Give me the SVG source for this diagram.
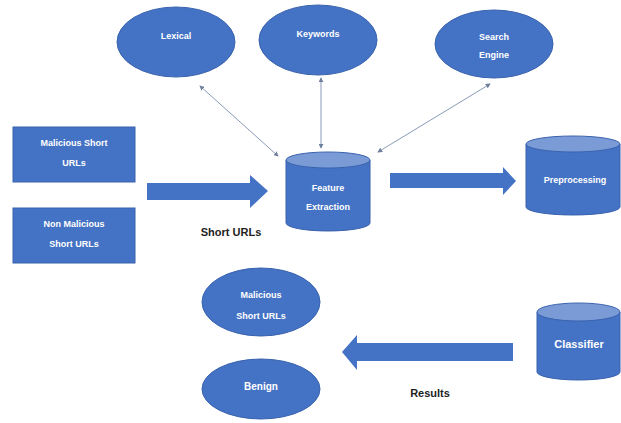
<svg xmlns="http://www.w3.org/2000/svg" width="621" height="423" viewBox="0 0 621 423">
<defs>
<style>
.n{fill:#4472C4;stroke:#3A63AE;stroke-width:1}
.top{fill:#7B9BD6;stroke:#3A63AE;stroke-width:1}
.t{fill:#fff;font-family:"Liberation Sans",Arial,sans-serif;font-weight:bold;font-size:9px;text-anchor:middle}
.lb{fill:#222;font-family:"Liberation Sans",Arial,sans-serif;font-weight:bold;font-size:11px;text-anchor:middle}
.thin{stroke:#8A9BB8;stroke-width:1;fill:none;marker-start:url(#ah);marker-end:url(#ah)}
.big{fill:#4472C4;stroke:none}
</style>
<marker id="ah" viewBox="0 0 6 6" refX="5" refY="3" markerWidth="5" markerHeight="5" orient="auto-start-reverse">
<path d="M0,0 L6,3 L0,6 z" fill="#6E7F9E"/>
</marker>
</defs>
<rect width="621" height="423" fill="#fff"/>
<g id="connectors">
<line class="thin" x1="278" y1="156" x2="200" y2="86"/>
<line class="thin" x1="321" y1="148" x2="321" y2="78"/>
<line class="thin" x1="378" y1="152" x2="490" y2="84"/>
<path class="big" d="M147,183 H250 V175 L268,191 L250,208 V200 H147 Z"/>
<path class="big" d="M390,173 H503 V167 L516,181 L503,195 V188 H390 Z"/>
<path class="big" d="M513,343 H357 V335 L342,352 L357,370 V361 H513 Z"/>
</g>
<g id="lexical"><ellipse class="n" cx="176" cy="42" rx="59" ry="35"/><text class="t" x="176" y="39">Lexical</text></g>
<g id="keywords"><ellipse class="n" cx="318" cy="40" rx="59" ry="35"/><text class="t" x="318" y="37">Keywords</text></g>
<g id="search"><ellipse class="n" cx="494" cy="44" rx="59" ry="34"/><text class="t" x="494" y="40">Search</text><text class="t" x="494" y="58">Engine</text></g>
<g id="malicious-box"><rect class="n" x="13" y="127" width="122" height="55"/><text class="t" x="74" y="146">Malicious Short</text><text class="t" x="74" y="166">URLs</text></g>
<g id="nonmalicious-box"><rect class="n" x="13" y="208" width="122" height="55"/><text class="t" x="74" y="227">Non Malicious</text><text class="t" x="74" y="247">Short URLs</text></g>
<g id="feature">
<path class="n" d="M286,160 V223 A42,8 0 0 0 370,223 V160"/>
<ellipse class="top" cx="328" cy="160" rx="42" ry="8"/>
<text class="t" x="328" y="191">Feature</text><text class="t" x="328" y="210">Extraction</text>
</g>
<g id="preprocessing">
<path class="n" d="M526,144 V207 A47,8 0 0 0 620,207 V144"/>
<ellipse class="top" cx="573" cy="144" rx="47" ry="8"/>
<text class="t" x="575" y="183">Preprocessing</text>
</g>
<g id="classifier">
<path class="n" d="M537,312 V372 A41.5,8 0 0 0 620,372 V312"/>
<ellipse class="top" cx="578.5" cy="312" rx="41.5" ry="9"/>
<text class="t" x="579" y="348" style="font-size:11px">Classifier</text>
</g>
<g id="malicious-out"><ellipse class="n" cx="261" cy="302" rx="59" ry="34"/><text class="t" x="261" y="298">Malicious</text><text class="t" x="261" y="319">Short URLs</text></g>
<g id="benign"><ellipse class="n" cx="261" cy="389" rx="59" ry="30"/><text class="t" x="261" y="390" style="font-size:10px">Benign</text></g>
<text class="lb" x="231" y="236">Short URLs</text>
<text class="lb" x="430" y="397">Results</text>
</svg>
